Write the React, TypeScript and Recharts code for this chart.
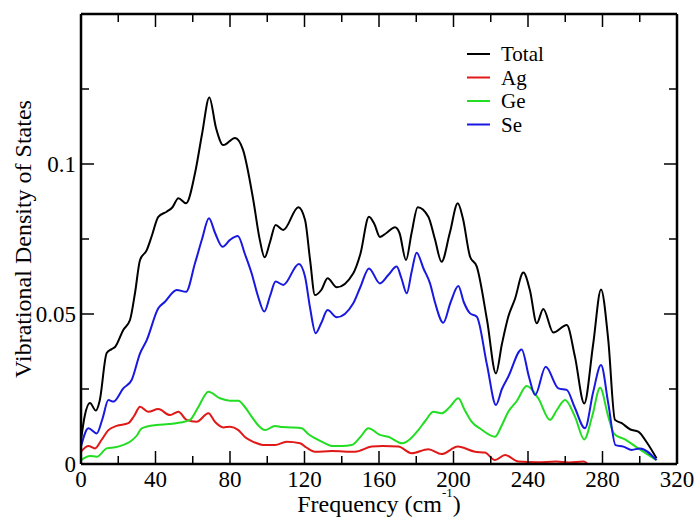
import { LineChart, Line, XAxis, YAxis, Legend, Label } from "recharts";

const FONT = "'Liberation Serif', 'DejaVu Serif', 'Times New Roman', serif";

// tick values
const xTicks = [0, 20, 40, 60, 80, 100, 120, 140, 160, 180, 200, 220, 240, 260, 280, 300, 320];
const xLabeled = [0, 40, 80, 120, 160, 200, 240, 280, 320];
const yTicks = [0, 0.025, 0.05, 0.075, 0.1, 0.125, 0.15];
const yMajor = [0, 0.05, 0.1, 0.15];
const yLabeled = [0, 0.05, 0.1];

// Total
const totalFreq = [0, 2, 4.8, 8, 10, 13.8, 16.5, 18.3, 22.7, 26.3, 29, 31.7, 35.3, 38, 41.5, 46, 49, 52.3, 56.4, 61.2, 65, 68.9, 72.5, 76.4, 82.7, 87, 92.5, 96, 98.6, 101.5, 104.5, 108.6, 116.7, 120.3, 123, 125.6, 129, 132.4, 137.3, 146.2, 150, 154.6, 157.5, 160.5, 164, 168.6, 171, 174.5, 177.5, 180.8, 186.5, 190, 193.6, 198, 202.3, 205, 208.9, 212.5, 218, 222.8, 226, 229.4, 233, 237.5, 241, 244.7, 248.2, 253.6, 260.8, 265.2, 270.2, 275, 279.2, 283.1, 286.7, 290.3, 295, 299.2, 304, 309];
const totalVals = [0.008, 0.016, 0.0203, 0.0178, 0.021, 0.037, 0.0383, 0.039, 0.0447, 0.048, 0.057, 0.068, 0.0713, 0.076, 0.0824, 0.0841, 0.0855, 0.0886, 0.0869, 0.0969, 0.11, 0.1222, 0.112, 0.1063, 0.1087, 0.1047, 0.088, 0.0747, 0.0689, 0.074, 0.0797, 0.078, 0.0856, 0.0813, 0.068, 0.0563, 0.058, 0.0619, 0.0589, 0.0636, 0.07, 0.0824, 0.08, 0.0757, 0.077, 0.0789, 0.077, 0.068, 0.077, 0.0856, 0.0824, 0.075, 0.0674, 0.077, 0.0869, 0.082, 0.0691, 0.0658, 0.048, 0.0302, 0.04, 0.0491, 0.055, 0.0638, 0.058, 0.0469, 0.0517, 0.0438, 0.0463, 0.0358, 0.0202, 0.04, 0.0582, 0.0413, 0.0147, 0.0136, 0.0115, 0.0108, 0.007, 0.0019];

// Ag
const agFreq = [0, 4, 7.5, 11, 14.7, 19.1, 25.4, 28.5, 31.7, 36.1, 41.5, 47.8, 52.3, 56.7, 62.1, 68.4, 72, 76.4, 80, 84.5, 88, 92.5, 98.8, 104.2, 110.4, 117.6, 121, 125.6, 134.6, 147.1, 156.1, 162, 170.4, 177.5, 186.5, 193.6, 202.3, 211.5, 216.9, 222.3, 227.7, 234.8, 245, 255, 262, 270, 272];
const agVals = [0.0041, 0.006, 0.0052, 0.008, 0.0113, 0.0127, 0.0136, 0.016, 0.0191, 0.0174, 0.0183, 0.0163, 0.0174, 0.0147, 0.0141, 0.0169, 0.014, 0.0122, 0.0124, 0.0113, 0.009, 0.0074, 0.0063, 0.0063, 0.0074, 0.0069, 0.0055, 0.0041, 0.0043, 0.0041, 0.0058, 0.006, 0.0058, 0.0036, 0.0049, 0.0033, 0.0058, 0.0041, 0.0038, 0.0013, 0.003, 0.0008, 0.0006, 0.0008, 0.0005, 0.0008, 0];

// Ge
const geFreq = [0, 4.8, 8.4, 13.8, 18.3, 22, 26.3, 30, 32.6, 40.6, 47, 53.2, 58.5, 63, 68.4, 74.6, 80, 84.5, 88, 91.6, 95, 98.8, 104.2, 108, 113.1, 118.5, 122, 125.6, 130, 134.6, 140, 145.3, 150, 154.3, 160.5, 165, 172.5, 177, 181.1, 185, 189.2, 193.6, 198, 202.6, 206, 209.7, 215, 222.3, 226, 229.4, 234, 239.3, 245.5, 251.8, 255.5, 259.9, 265.2, 270.2, 274.5, 278.7, 283.1, 286.3, 292.1, 299.2, 309];
const geVals = [0.0013, 0.0027, 0.0024, 0.0052, 0.0056, 0.0062, 0.0074, 0.0095, 0.0119, 0.013, 0.0133, 0.0138, 0.0147, 0.019, 0.0241, 0.0219, 0.0211, 0.0211, 0.019, 0.0158, 0.013, 0.0113, 0.0127, 0.0123, 0.0122, 0.0119, 0.01, 0.0086, 0.0072, 0.006, 0.006, 0.0063, 0.009, 0.0119, 0.0097, 0.0091, 0.0069, 0.0085, 0.0113, 0.0145, 0.0174, 0.0169, 0.019, 0.0219, 0.018, 0.0141, 0.0115, 0.0091, 0.013, 0.0174, 0.021, 0.026, 0.0219, 0.0147, 0.018, 0.0213, 0.0158, 0.0082, 0.016, 0.0254, 0.0158, 0.01, 0.0082, 0.0052, 0.0013];

// Se
const seFreq = [0, 4, 8.4, 11.5, 14.7, 17.4, 22.7, 27.2, 31.7, 35.3, 41.5, 45.1, 51.4, 56.4, 61.2, 65, 68.7, 72, 76, 80, 84.2, 88, 91.6, 95, 98.4, 101.5, 104.5, 108.6, 117, 120.3, 123, 126, 129, 132.4, 137.3, 146.2, 150, 154.6, 160.5, 165, 169.5, 172, 174.9, 177.5, 180.2, 184, 187.4, 190, 194.5, 198.5, 202.6, 205.5, 208.9, 212.5, 218, 222.8, 226, 229.4, 236.6, 240.5, 243.8, 249.5, 256.3, 260.8, 265, 270.6, 275, 279.2, 283.1, 287, 291.2, 295.7, 300.1, 309];
const seVals = [0.0058, 0.0119, 0.0102, 0.015, 0.0213, 0.0208, 0.0252, 0.028, 0.0369, 0.0413, 0.0519, 0.0541, 0.058, 0.0574, 0.0669, 0.075, 0.0819, 0.077, 0.0724, 0.0747, 0.076, 0.07, 0.0636, 0.056, 0.0508, 0.056, 0.0608, 0.0597, 0.0667, 0.0624, 0.052, 0.0436, 0.047, 0.0513, 0.0489, 0.0536, 0.059, 0.0652, 0.0602, 0.063, 0.0658, 0.062, 0.0569, 0.064, 0.0704, 0.065, 0.0602, 0.054, 0.0471, 0.054, 0.0593, 0.054, 0.0502, 0.0491, 0.033, 0.0197, 0.025, 0.0291, 0.0382, 0.0291, 0.023, 0.0324, 0.0252, 0.0247, 0.019, 0.0119, 0.024, 0.033, 0.0202, 0.0063, 0.0058, 0.0047, 0.0052, 0.0013];

const toPoints = (fs: number[], vs: number[]) => fs.map((f, i) => ({ f, v: vs[i] }));

const series = [
  { name: "Total", color: "#000000", data: toPoints(totalFreq, totalVals) },
  { name: "Ag", color: "#e01818", data: toPoints(agFreq, agVals) },
  { name: "Ge", color: "#22dd22", data: toPoints(geFreq, geVals) },
  { name: "Se", color: "#1818e0", data: toPoints(seFreq, seVals) },
];

const MAJOR = 13;
const MINOR = 8;

function BottomTick({ x, y, payload }: any) {
  const v = payload.value;
  const major = xLabeled.includes(v);
  return (
    <g>
      <line x1={x} x2={x} y1={y} y2={y - (major ? MAJOR : MINOR)} stroke="#000" strokeWidth={1.5} />
      {major && (
        <text x={x} y={y + 23} textAnchor="middle" fontSize={23} fontFamily={FONT} fill="#000">
          {v}
        </text>
      )}
    </g>
  );
}

function TopTick({ x, y, payload }: any) {
  const major = xLabeled.includes(payload.value);
  return <line x1={x} x2={x} y1={y} y2={y + (major ? MAJOR : MINOR)} stroke="#000" strokeWidth={1.5} />;
}

function LeftTick({ x, y, payload }: any) {
  const v = payload.value;
  const major = yMajor.includes(v);
  return (
    <g>
      <line x1={x} x2={x + (major ? MAJOR : MINOR)} y1={y} y2={y} stroke="#000" strokeWidth={1.5} />
      {yLabeled.includes(v) && (
        <text x={x - 5} y={y + 8} textAnchor="end" fontSize={23} fontFamily={FONT} fill="#000">
          {String(v)}
        </text>
      )}
    </g>
  );
}

function RightTick({ x, y, payload }: any) {
  const major = yMajor.includes(payload.value);
  return <line x1={x} x2={x - (major ? MAJOR : MINOR)} y1={y} y2={y} stroke="#000" strokeWidth={1.5} />;
}

function XTitle({ viewBox }: any) {
  const cx = viewBox.x + viewBox.width / 2;
  return (
    <text x={cx} y={512} textAnchor="middle" fontSize={24} fontFamily={FONT} fill="#000">
      Frequency (cm
      <tspan fontSize={13} dy={-15}>-1</tspan>
      <tspan dy={15}>)</tspan>
    </text>
  );
}

function YTitle({ viewBox }: any) {
  const cy = viewBox.y + viewBox.height / 2;
  const x = 31;
  return (
    <text x={x} y={cy} transform={`rotate(-90 ${x} ${cy})`} textAnchor="middle" fontSize={24} fontFamily={FONT} fill="#000">
      Vibrational Density of States
    </text>
  );
}

function LegendBox() {
  return (
    <svg width={130} height={100} style={{ display: "block" }}>
      {series.map((s, i) => {
        const ly = 14 + i * 23.5;
        return (
          <g key={s.name}>
            <line x1={6} x2={29} y1={ly} y2={ly} stroke={s.color} strokeWidth={2} />
            <text x={40} y={ly + 7} fontSize={21} fontFamily={FONT} fill="#000">
              {s.name}
            </text>
          </g>
        );
      })}
    </svg>
  );
}

export default function App() {
  return (
    <div style={{ position: "absolute", left: 0, top: 0, background: "#fff" }}>
      <LineChart width={696} height={518} margin={{ top: 4, right: 9, bottom: 24, left: 21 }}>
        <XAxis
          xAxisId="b"
          dataKey="f"
          type="number"
          domain={[0, 320]}
          ticks={xTicks}
          interval={0}
          height={30}
          allowDataOverflow
          tickLine={false}
          tickSize={0}
          tickMargin={0}
          tick={<BottomTick />}
          axisLine={{ stroke: "#000", strokeWidth: 2.5 }}
        >
          <Label content={<XTitle />} />
        </XAxis>
        <XAxis
          xAxisId="t"
          orientation="top"
          dataKey="f"
          type="number"
          domain={[0, 320]}
          ticks={xTicks}
          interval={0}
          height={10}
          allowDataOverflow
          tickLine={false}
          tickSize={0}
          tickMargin={0}
          tick={<TopTick />}
          axisLine={{ stroke: "#000", strokeWidth: 2.5 }}
        />
        <YAxis
          yAxisId="l"
          type="number"
          domain={[0, 0.15]}
          ticks={yTicks}
          interval={0}
          width={60}
          allowDataOverflow
          tickLine={false}
          tickSize={0}
          tickMargin={0}
          tick={<LeftTick />}
          axisLine={{ stroke: "#000", strokeWidth: 2.5 }}
        >
          <Label content={<YTitle />} />
        </YAxis>
        <YAxis
          yAxisId="r"
          orientation="right"
          type="number"
          domain={[0, 0.15]}
          ticks={yTicks}
          interval={0}
          width={10}
          allowDataOverflow
          tickLine={false}
          tickSize={0}
          tickMargin={0}
          tick={<RightTick />}
          axisLine={{ stroke: "#000", strokeWidth: 2.5 }}
        />
        <Legend
          layout="vertical"
          align="center"
          verticalAlign="middle"
          content={<LegendBox />}
          wrapperStyle={{ position: "absolute", left: 461, top: 40, width: 130, height: 100 }}
        />
        {series.map((s) => (
          <Line
            key={s.name}
            xAxisId="b"
            yAxisId="l"
            data={s.data}
            dataKey="v"
            name={s.name}
            type="monotone"
            stroke={s.color}
            strokeWidth={2}
            dot={false}
            activeDot={false}
            isAnimationActive={false}
          />
        ))}
      </LineChart>
    </div>
  );
}
